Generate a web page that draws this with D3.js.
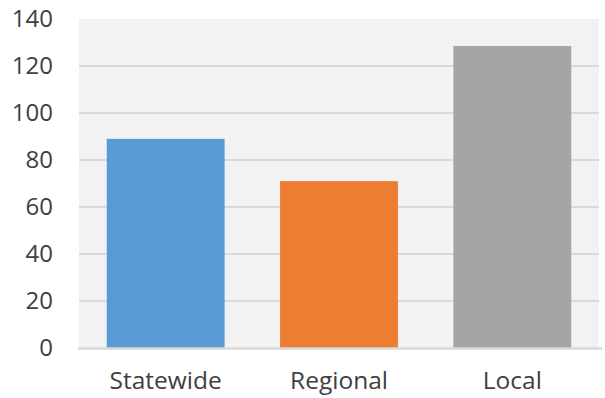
<!DOCTYPE html>
<html><head><meta charset="utf-8">
<script src="https://cdn.jsdelivr.net/npm/d3@7"></script>
<style>body{margin:0;background:#fff}svg text{font-family:"Open Sans",sans-serif;fill:#404040}</style>
</head><body><svg id="c" width="605" height="398"></svg>
<script>
const categories = ["Statewide", "Regional", "Local"];
const values = [89, 71, 128.5];
const colors = ["#5b9bd5", "#ed7d31", "#a5a5a5"];
const yTicks = [0, 20, 40, 60, 80, 100, 120, 140];

const svg = d3.select("#c");
const m = {l: 79, r: 6, t: 19, b: 50};
const W = 605, H = 398;
const x = d3.scaleBand().domain(categories).range([m.l, W - m.r]).paddingInner(0.32).paddingOuter(0.16);
const y = d3.scaleLinear().domain([0, 140]).range([H - m.b, m.t]);

svg.append("rect").attr("x", m.l).attr("y", m.t).attr("width", W - m.r - m.l).attr("height", H - m.b - m.t).attr("fill", "#f2f2f2");

svg.append("g").selectAll("line").data(yTicks.filter(d => d > 0 && d < 140)).join("line")
  .attr("x1", m.l).attr("x2", W - m.r).attr("y1", d => y(d)).attr("y2", d => y(d))
  .attr("stroke", "#d9d9d9").attr("stroke-width", 2);

svg.append("g").selectAll("rect").data(categories).join("rect")
  .attr("x", d => x(d)).attr("width", x.bandwidth())
  .attr("y", (d, i) => y(values[i])).attr("height", (d, i) => y(0) - y(values[i]))
  .attr("fill", (d, i) => colors[i]);

svg.append("line").attr("x1", m.l - 1).attr("x2", W - 3).attr("y1", y(0) + 0.5).attr("y2", y(0) + 0.5)
  .attr("stroke", "#d9d9d9").attr("stroke-width", 2.5);

const yAxis = d3.axisLeft(y).tickValues(yTicks).tickSize(0).tickPadding(26);
const gy = svg.append("g").attr("transform", `translate(${m.l},0)`).call(yAxis);
gy.select(".domain").remove();
gy.selectAll("text").style("font-size", "24px").style("font-family", "'Open Sans',sans-serif").attr("fill", "#404040");

const xAxis = d3.axisBottom(x).tickSize(0).tickPadding(24);
const gx = svg.append("g").attr("transform", `translate(0,${y(0)})`).call(xAxis);
gx.select(".domain").remove();
gx.selectAll("text").style("font-size", "24.5px").style("font-family", "'Open Sans',sans-serif").attr("fill", "#404040");
</script></body></html>
